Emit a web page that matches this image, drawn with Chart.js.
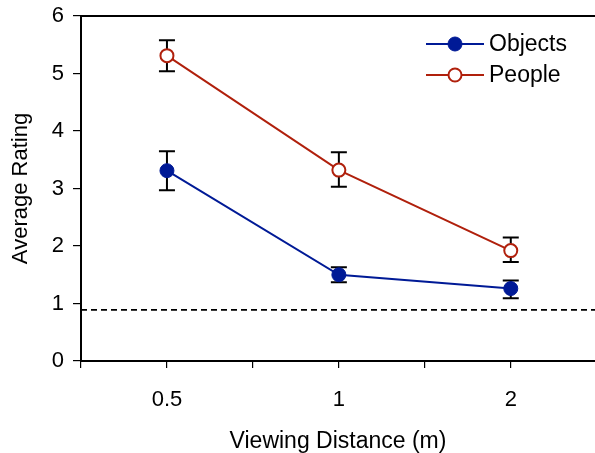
<!DOCTYPE html>
<html lang="en">
<head>
  <meta charset="UTF-8">
  <title>Average Rating by Viewing Distance</title>
  <script src="https://cdn.jsdelivr.net/npm/chart.js"></script>
  <style>
    body {
      margin: 0;
      background: #fff;
    }
    canvas {
      display: block;
    }
  </style>
</head>
<body>
  <canvas id="ratingChart" width="595" height="453"></canvas>

  <script>
    // data
    const distances = ['0.5', '1', '2'];
    const objectsMean = [3.31, 1.50, 1.26];
    const objectsHigh = [3.65, 1.63, 1.40];
    const objectsLow = [2.97, 1.37, 1.09];
    const peopleMean = [5.31, 3.32, 1.92];
    const peopleHigh = [5.58, 3.63, 2.15];
    const peopleLow = [5.04, 3.03, 1.72];
    const chanceLevel = 0.89;

    const BLUE = '#001a96';
    const RED = '#b0200c';
    const FONT = 'Liberation Sans, Arial, sans-serif';

    // each category sits in the middle of a unit-wide slot
    const toPoints = (vals) => vals.map((v, i) => ({ x: i + 0.5, y: v }));

    const errorBars = {
      id: 'errorBars',
      beforeDatasetsDraw(chart) {
        const { ctx, chartArea, scales: { x, y } } = chart;
        ctx.save();

        // dashed reference line
        ctx.strokeStyle = '#000';
        ctx.lineWidth = 1.6;
        ctx.setLineDash([6, 4]);
        const yc = y.getPixelForValue(chanceLevel);
        ctx.beginPath();
        ctx.moveTo(chartArea.left, yc);
        ctx.lineTo(chartArea.right, yc);
        ctx.stroke();
        ctx.setLineDash([]);

        // error bars
        ctx.lineWidth = 2;
        const groups = [[objectsHigh, objectsLow], [peopleHigh, peopleLow]];
        groups.forEach(([hi, lo]) => {
          hi.forEach((h, i) => {
            const px = x.getPixelForValue(i + 0.5);
            const top = y.getPixelForValue(h);
            const bot = y.getPixelForValue(lo[i]);
            ctx.beginPath();
            ctx.moveTo(px, top);
            ctx.lineTo(px, bot);
            ctx.moveTo(px - 8, top);
            ctx.lineTo(px + 8, top);
            ctx.moveTo(px - 8, bot);
            ctx.lineTo(px + 8, bot);
            ctx.stroke();
          });
        });
        ctx.restore();
      },
      afterDraw(chart) {
        // legend inside the plot, upper right
        const { ctx, chartArea } = chart;
        ctx.save();
        ctx.font = '23px ' + FONT;
        ctx.textBaseline = 'middle';
        ctx.textAlign = 'left';
        chart.data.datasets.forEach((ds, i) => {
          const yy = chartArea.top + 28 + i * 31;
          const x0 = chartArea.right - 169;
          ctx.strokeStyle = ds.borderColor;
          ctx.lineWidth = 2;
          ctx.beginPath();
          ctx.moveTo(x0, yy);
          ctx.lineTo(x0 + 58, yy);
          ctx.stroke();
          ctx.beginPath();
          ctx.arc(x0 + 29, yy, ds.pointRadius, 0, Math.PI * 2);
          ctx.fillStyle = ds.pointBackgroundColor;
          ctx.fill();
          ctx.lineWidth = ds.pointBorderWidth;
          ctx.stroke();
          ctx.fillStyle = '#000';
          ctx.fillText(ds.label, x0 + 63, yy + 1);
        });
        ctx.restore();
      }
    };

    new Chart(document.getElementById('ratingChart'), {
      type: 'line',
      data: {
        datasets: [
          {
            label: 'Objects',
            data: toPoints(objectsMean),
            borderColor: BLUE,
            borderWidth: 2,
            pointRadius: 7,
            pointBackgroundColor: BLUE,
            pointBorderColor: BLUE,
            pointBorderWidth: 1,
            xAxisID: 'x'
          },
          {
            label: 'People',
            data: toPoints(peopleMean),
            borderColor: RED,
            borderWidth: 2,
            pointRadius: 6.5,
            pointBackgroundColor: '#fff',
            pointBorderColor: RED,
            pointBorderWidth: 2,
            xAxisID: 'x'
          }
        ]
      },
      options: {
        responsive: false,
        animation: false,
        layout: {
          autoPadding: false,
          padding: { top: 16, right: 0, left: 0, bottom: 0 }
        },
        plugins: {
          legend: { display: false },
          tooltip: { enabled: false }
        },
        scales: {
          x: {
            type: 'linear',
            position: 'bottom',
            min: 0,
            max: 2.99,
            afterFit: (s) => {
              s.height = 92;
              s.paddingLeft = 0;
              s.paddingRight = 0;
            },
            afterBuildTicks: (s) => {
              s.ticks = s.ticks.filter(t => Math.abs(t.value * 2 - Math.round(t.value * 2)) < 1e-6);
            },
            ticks: {
              stepSize: 0.5,
              autoSkip: false,
              maxRotation: 0,
              padding: 19,
              color: '#000',
              font: { family: FONT, size: 22 },
              callback: (v) => {
                const i = v - 0.5;
                return Number.isInteger(i) && distances[i] !== undefined ? distances[i] : '';
              }
            },
            grid: {
              drawOnChartArea: false,
              tickLength: 7,
              color: '#000',
              lineWidth: 1.2
            },
            border: { color: '#000', width: 2 },
            title: {
              display: true,
              text: 'Viewing Distance (m)',
              color: '#000',
              font: { family: FONT, size: 23 },
              padding: { top: 0, bottom: -2 }
            }
          },
          x2: {
            type: 'linear',
            position: 'top',
            display: true,
            afterFit: (s) => {
              s.height = 0;
              s.paddingLeft = 0;
              s.paddingRight = 0;
            },
            ticks: { display: false },
            grid: { display: false },
            border: { color: '#000', width: 2 }
          },
          y: {
            min: 0,
            max: 6,
            afterFit: (s) => {
              s.width = 81;
              s.paddingTop = 0;
              s.paddingBottom = 0;
            },
            ticks: {
              stepSize: 1,
              padding: 9,
              color: '#000',
              font: { family: FONT, size: 22 }
            },
            grid: {
              drawOnChartArea: false,
              tickLength: 8,
              color: '#000',
              lineWidth: 1.2
            },
            border: { color: '#000', width: 2 },
            title: {
              display: true,
              text: 'Average Rating',
              color: '#000',
              font: { family: FONT, size: 22 },
              padding: { top: 8, bottom: 0 }
            }
          }
        }
      },
      plugins: [errorBars]
    });
  </script>
</body>
</html>
